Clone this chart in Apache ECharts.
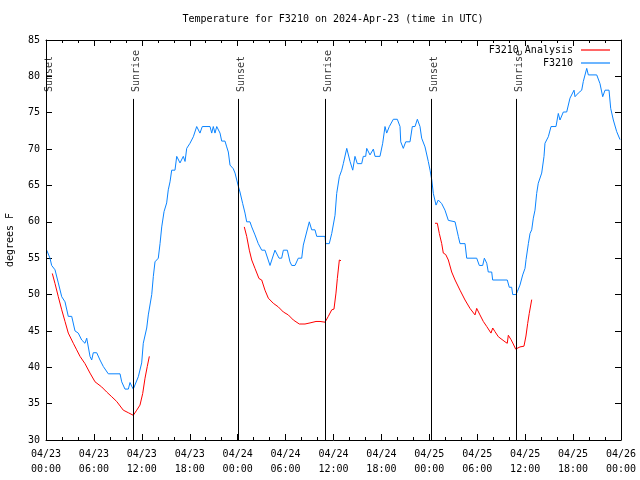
<!DOCTYPE html>
<html>
<head>
<meta charset="utf-8">
<script src="https://cdn.jsdelivr.net/npm/echarts@6/dist/echarts.min.js"></script>
<style>html,body{margin:0;padding:0;background:#fff}#c{width:640px;height:480px}</style>
</head>
<body>
<div id="c"></div>
<script>
// hours since 04/23 00:00 UTC
const tickLabels = ['04/23\n00:00','04/23\n06:00','04/23\n12:00','04/23\n18:00','04/24\n00:00','04/24\n06:00','04/24\n12:00','04/24\n18:00','04/25\n00:00','04/25\n06:00','04/25\n12:00','04/25\n18:00','04/26\n00:00'];
const sunNames = ['Sunset','Sunrise','Sunset','Sunrise','Sunset','Sunrise'];
const sunHours = [0, 10.89, 24.04, 34.94, 48.21, 58.85];

const stationSeries = [
[0.09,56.1],[0.5,55],[0.71,54],[1.13,53.4],[1.54,51.6],[1.97,49.7],[2.38,49],[2.79,47],[3.22,47],[3.63,45],[4.04,44.7],[4.47,43.75],[4.88,43.3],[5.10,44],[5.51,41.5],[5.72,41],[5.92,42],[6.35,42],[6.76,41],[7.18,40.1],[7.80,39.1],[9.27,39.1],[9.48,38],[9.89,37],[10.31,37],[10.52,37.9],[10.73,37.4],[10.93,37],[11.14,37],[11.56,38.7],[11.98,40.6],[12.18,43.3],[12.61,45.4],[12.81,47.2],[13.24,50],[13.44,52.5],[13.65,54.5],[14.06,55],[14.28,57],[14.49,59.3],[14.78,61.4],[15.11,62.6],[15.31,64.4],[15.53,65.5],[15.74,67.1],[16.15,67.1],[16.37,69],[16.78,68.1],[17.19,69],[17.41,68.3],[17.62,70.1],[18.03,70.8],[18.45,71.7],[18.87,73.1],[19.28,72.2],[19.57,73.1],[20.54,73.1],[20.75,72.2],[20.95,73.1],[21.16,72.2],[21.38,73.1],[21.79,72.2],[22.0,71.1],[22.41,71.1],[22.63,70.3],[22.83,69.6],[23.04,67.8],[23.45,67.3],[23.67,66.7],[24.08,64.9],[24.29,64.1],[24.63,62.5],[24.92,61.2],[25.13,60],[25.54,60],[25.76,59.3],[26.17,58.2],[26.58,57],[27.01,56.1],[27.42,56.1],[28.05,54],[28.26,54],[28.67,56.1],[28.89,56.1],[29.18,55],[29.51,55],[29.72,56.1],[30.22,56.1],[30.55,54.5],[30.77,54],[31.18,54],[31.59,55],[32.02,55],[32.22,56.8],[32.64,58.6],[32.97,60],[33.27,58.9],[33.68,58.9],[33.90,58],[34.94,58],[35.02,57],[35.47,57],[35.78,58.4],[36.19,60.9],[36.40,63.9],[36.73,66.2],[37.03,67.1],[37.23,68],[37.66,70.1],[38.07,68.3],[38.41,67.1],[38.69,69],[38.98,68],[39.53,68],[39.73,69],[40.03,69],[40.16,70.1],[40.57,69.2],[40.99,70],[41.20,69],[41.82,69],[42.16,70.8],[42.45,73.1],[42.66,72.2],[42.99,73.1],[43.49,74.1],[43.99,74.1],[44.33,73.1],[44.42,71],[44.74,70.1],[45.04,71],[45.58,71],[45.87,73.1],[46.21,73.1],[46.50,74.1],[46.83,73.1],[47.04,71.5],[47.46,70.3],[47.87,68.3],[48.09,67.1],[48.30,65.8],[48.50,63.9],[48.84,62.3],[49.12,63],[49.55,62.5],[49.96,61.6],[50.38,60.2],[51.22,60],[51.63,58],[51.84,57],[52.47,57],[52.68,55],[53.93,55],[54.26,54],[54.68,54],[54.89,55],[55.19,54.3],[55.38,53.1],[55.81,53.1],[55.93,52],[57.76,52],[58.01,51],[58.31,51],[58.44,50],[58.85,50],[59.02,50.4],[59.35,51.3],[59.69,52.7],[59.98,53.6],[60.11,54.8],[60.40,57],[60.61,58.4],[60.82,58.9],[61.02,60.5],[61.23,61.6],[61.44,63.9],[61.64,65.3],[62.07,66.7],[62.36,69],[62.48,70.8],[62.90,71.7],[63.24,73.1],[63.86,73.1],[64.15,74.9],[64.36,74],[64.78,75.1],[65.20,75.1],[65.61,77],[66.12,78.1],[66.24,77.2],[66.65,77.7],[67.08,78.1],[67.28,79.3],[67.71,81.1],[67.91,80.2],[68.96,80.2],[69.37,79],[69.71,77.2],[70.0,78.1],[70.50,78.1],[70.71,75.6],[71.04,74],[71.46,72.4],[71.88,71.3]
];

const analysisNight1 = [
[0.79,52.9],[1.13,51.5],[1.54,49.7],[1.97,47.9],[2.38,46.3],[2.79,44.7],[3.42,43.3],[3.84,42.4],[4.26,41.5],[4.88,40.5],[5.51,39.2],[6.14,38],[6.97,37.3],[7.60,36.6],[8.23,35.95],[8.85,35.3],[9.68,34.1],[10.31,33.75],[10.93,33.4],[11.36,34.1],[11.77,34.8],[12.11,36.4],[12.40,38.5],[12.68,40.1],[12.94,41.5]
];
const analysisNight2 = [
[24.83,59.3],[25.13,58],[25.46,56.1],[25.76,54.75],[26.17,53.6],[26.67,52.2],[27.01,52],[27.42,50.6],[27.84,49.5],[28.46,48.8],[29.09,48.3],[29.72,47.6],[30.34,47.2],[30.97,46.5],[31.72,45.95],[32.43,45.95],[33.06,46.1],[33.81,46.3],[34.31,46.3],[34.94,46.2],[35.35,47],[35.78,47.9],[36.06,48],[36.31,50.2],[36.48,52.2],[36.73,54.75],[36.94,54.65]
];
const analysisNight3 = [
[48.71,59.8],[49.0,59.8],[49.25,58.4],[49.55,57],[49.75,55.7],[50.05,55.5],[50.38,54.75],[50.80,53.1],[51.22,52],[51.84,50.6],[52.47,49.25],[53.09,48.1],[53.72,47.2],[53.93,48.1],[54.34,47.2],[54.76,46.3],[55.19,45.6],[55.72,44.7],[55.94,45.4],[56.22,44.9],[56.64,44.2],[57.48,43.5],[57.76,43.3],[57.89,44.4],[58.23,43.8],[58.51,43.2],[58.81,42.5],[59.35,42.8],[59.85,42.9],[60.10,44.3],[60.31,46],[60.51,47.4],[60.82,49.3]
];

const FONT = 'DejaVu Sans Mono';
const RED = '#ff0000';
const BLUE = '#0a84ff';
const sunLineTop = 76.9;
const sunLabelY = 77.85;

const chart = echarts.init(document.getElementById('c'), null, {renderer: 'canvas'});

const axisCommon = {
  axisLine: {show: true, onZero: false, lineStyle: {color: '#000', width: 1}},
  splitLine: {show: false},
};

const analysisStyle = (data) => ({
  name: 'F3210 Analysis', type: 'line', data, showSymbol: false, symbol: 'none',
  lineStyle: {color: RED, width: 1}, itemStyle: {color: RED}, animation: false, z: 3
});

const option = {
  animation: false,
  backgroundColor: '#fff',
  textStyle: {fontFamily: FONT, fontSize: 10, color: '#000'},
  title: {
    text: 'Temperature for F3210 on 2024-Apr-23 (time in UTC)',
    left: 333, textAlign: 'center', top: 14,
    textStyle: {fontFamily: FONT, fontSize: 10, fontWeight: 'normal', color: '#000'},
    padding: 0
  },
  legend: [
    {data: [{name: 'F3210 Analysis', icon: 'rect', itemStyle: {color: RED}}], align: 'right', right: 30, top: 45,
     itemWidth: 29, itemHeight: 1.2, textStyle: {fontFamily: FONT, fontSize: 10, color: '#000', padding: [0, 3, 0, 0]}, padding: 0},
    {data: [{name: 'F3210', icon: 'rect', itemStyle: {color: BLUE}}], align: 'right', right: 30, top: 58,
     itemWidth: 29, itemHeight: 1.2, textStyle: {fontFamily: FONT, fontSize: 10, color: '#000', padding: [0, 3, 0, 0]}, padding: 0}
  ],
  grid: {left: 46, right: 19, top: 40, bottom: 40, containLabel: false, outerBoundsMode: 'none'},
  xAxis: [
    Object.assign({
      type: 'value', min: 0, max: 72, interval: 6, position: 'bottom',
      axisTick: {show: true, inside: true, length: 6, lineStyle: {color: '#000'}},
      minorTick: {show: true, splitNumber: 3, length: 3, lineStyle: {color: '#000'}},
      axisLabel: {show: true, margin: 7, lineHeight: 15, fontFamily: FONT, fontSize: 10, color: '#000',
        formatter: v => tickLabels[Math.round(v / 6)] || ''}
    }, axisCommon),
    Object.assign({
      type: 'value', min: 0, max: 72, interval: 6, position: 'top',
      axisTick: {show: true, inside: true, length: 6, lineStyle: {color: '#000'}},
      minorTick: {show: true, splitNumber: 3, length: 3, lineStyle: {color: '#000'}},
      axisLabel: {show: false}
    }, axisCommon)
  ],
  yAxis: [
    Object.assign({
      type: 'value', min: 30, max: 85, interval: 5, position: 'left',
      name: 'degrees F', nameLocation: 'middle', nameRotate: 90, nameGap: 31,
      nameTextStyle: {fontFamily: FONT, fontSize: 10, color: '#000'},
      axisTick: {show: true, inside: true, length: 6, lineStyle: {color: '#000'}},
      axisLabel: {show: true, margin: 6, fontFamily: FONT, fontSize: 10, color: '#000'}
    }, axisCommon),
    Object.assign({
      type: 'value', min: 30, max: 85, interval: 5, position: 'right',
      axisTick: {show: true, inside: true, length: 6, lineStyle: {color: '#000'}},
      axisLabel: {show: false}
    }, axisCommon)
  ],
  series: [
    analysisStyle(analysisNight1),
    analysisStyle(analysisNight2),
    analysisStyle(analysisNight3),
    {
      name: 'F3210', type: 'line', data: stationSeries, showSymbol: false, symbol: 'none',
      lineStyle: {color: BLUE, width: 1}, itemStyle: {color: BLUE}, z: 3,
      markLine: {
        silent: true, symbol: ['none', 'none'], animation: false,
        lineStyle: {color: '#000', width: 1, type: 'solid'},
        label: {show: false},
        data: sunHours.map(h => [{coord: [h, 30]}, {coord: [h, sunLineTop]}])
      }
    },
    {
      name: 'sun', type: 'scatter', symbolSize: 0, silent: true, z: 4,
      data: sunHours.map((h, i) => [h, sunLabelY, sunNames[i]]),
      label: {show: true, formatter: p => p.data[2], rotate: 90, position: [3, 0],
        align: 'left', verticalAlign: 'middle', fontFamily: FONT, fontSize: 10, color: '#000'}
    }
  ]
};
chart.setOption(option);
</script>
</body>
</html>
